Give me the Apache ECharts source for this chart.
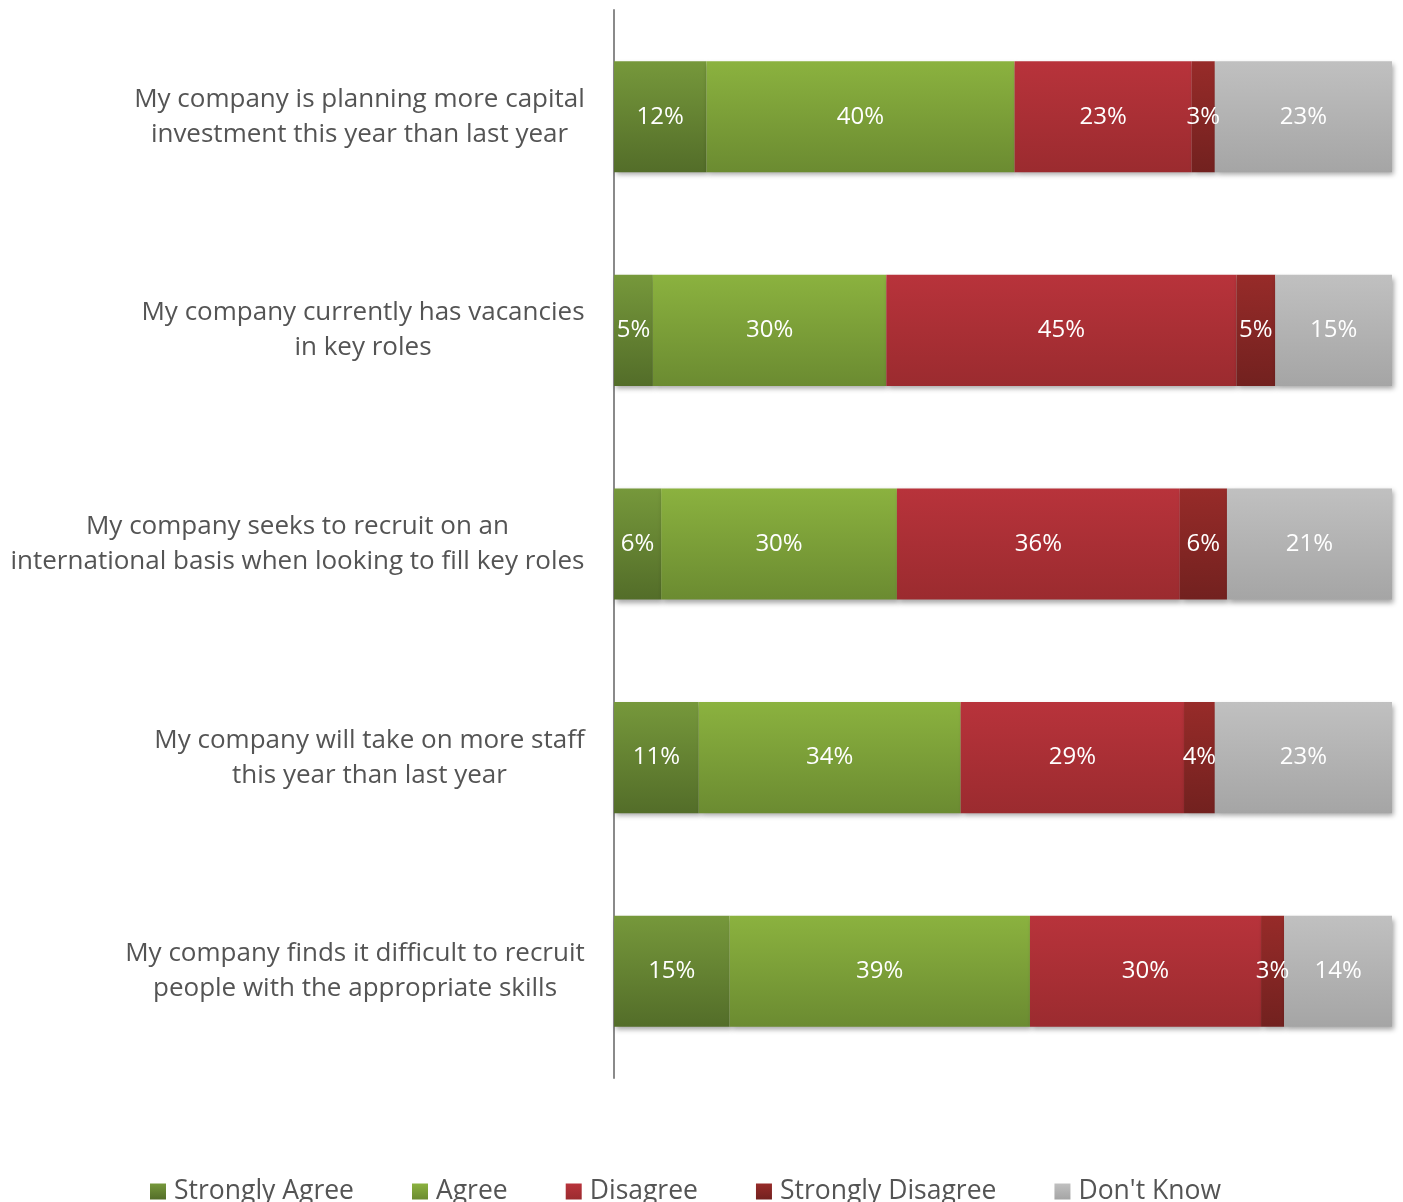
<!DOCTYPE html>
<html>
<head>
<meta charset="utf-8">
<script src="https://cdn.jsdelivr.net/npm/echarts@6/dist/echarts.min.js"></script>
<style>
  html, body { margin: 0; padding: 0; background: #fff; }
  #chart { width: 1403px; height: 1202px; }
</style>
</head>
<body>
<div id="chart"></div>
<script>
// Survey statements (top to bottom)
const categories = [
  'My company is planning more capital\ninvestment this year than last year',
  'My company currently has vacancies\nin key roles',
  'My company seeks to recruit on an\ninternational basis when looking to fill key roles',
  'My company will take on more staff\nthis year than last year',
  'My company finds it difficult to recruit\npeople with the appropriate skills'
];
const seriesNames = ['Strongly Agree', 'Agree', 'Disagree', 'Strongly Disagree', "Don't Know"];
// Response percentages per statement
const stronglyAgree    = [12, 5, 6, 11, 15];
const agree            = [40, 30, 30, 34, 39];
const disagree         = [23, 45, 36, 29, 30];
const stronglyDisagree = [3, 5, 6, 4, 3];
const dontKnow         = [23, 15, 21, 23, 14];

const FONT = '"Open Sans", "Noto Sans", sans-serif';
const CAT_SIZE = 26;
const TEXT_COLOR = '#545454';

const allValues = [stronglyAgree, agree, disagree, stronglyDisagree, dontKnow];
// Each bar is drawn as a 100% stack: share of its row total
const rowTotals = categories.map((_, i) => allValues.reduce((s, arr) => s + arr[i], 0));

const gradients = [
  ['#76983b', '#536d29'],
  ['#8bb23f', '#6b8b31'],
  ['#b8333b', '#9b2b2f'],
  ['#972b29', '#72211f'],
  ['#c0c0c0', '#a5a5a5']
];

function grad(c) {
  return new echarts.graphic.LinearGradient(0, 0, 0, 1, [
    { offset: 0, color: c[0] },
    { offset: 1, color: c[1] }
  ]);
}

// Multi-line category labels: lines centred within the widest line
const ctx = document.createElement('canvas').getContext('2d');
ctx.font = CAT_SIZE + 'px ' + FONT;
const rich = {};
categories.forEach((c, i) => {
  const w = Math.max(...c.split('\n').map(l => ctx.measureText(l).width));
  rich['l' + i] = {
    width: Math.ceil(w) + 2, align: 'center',
    fontSize: CAT_SIZE, fontFamily: FONT,
    color: TEXT_COLOR, lineHeight: 35
  };
});

const series = allValues.map((vals, k) => ({
  name: seriesNames[k],
  type: 'bar',
  stack: 'total',
  barCategoryGap: '48%',
  data: vals.map((v, i) => v / rowTotals[i] * 100),
  itemStyle: {
    color: grad(gradients[k]),
    shadowColor: 'rgba(0,0,0,0.35)',
    shadowBlur: 5,
    shadowOffsetX: 2,
    shadowOffsetY: 3
  },
  label: {
    show: true,
    position: 'inside',
    color: '#ffffff',
    fontFamily: FONT,
    fontSize: 24,
    formatter: p => vals[p.dataIndex] + '%'
  }
}));

const chart = echarts.init(document.getElementById('chart'), null, { renderer: 'canvas' });
chart.setOption({
  animation: false,
  backgroundColor: '#ffffff',
  grid: { left: 614, right: 11, top: 10, bottom: 124, containLabel: false },
  xAxis: {
    type: 'value',
    min: 0,
    max: 100,
    show: false
  },
  yAxis: {
    type: 'category',
    inverse: true,
    data: categories,
    axisLine: { show: true, lineStyle: { color: '#8a8a8a', width: 2 } },
    axisTick: { show: false },
    splitLine: { show: false },
    axisLabel: {
      margin: 28,
      formatter: (value, index) => value.split('\n').map(l => '{l' + index + '|' + l + '}').join('\n'),
      rich: rich
    }
  },
  legend: {
    left: 150,
    top: 1178,
    padding: 0,
    itemWidth: 16,
    itemHeight: 16,
    itemGap: 58,
    icon: 'rect',
    textStyle: { color: TEXT_COLOR, fontSize: 26.5, fontFamily: FONT, padding: [0, 0, 0, 3] },
    data: seriesNames
  },
  series: series
});
</script>
</body>
</html>
